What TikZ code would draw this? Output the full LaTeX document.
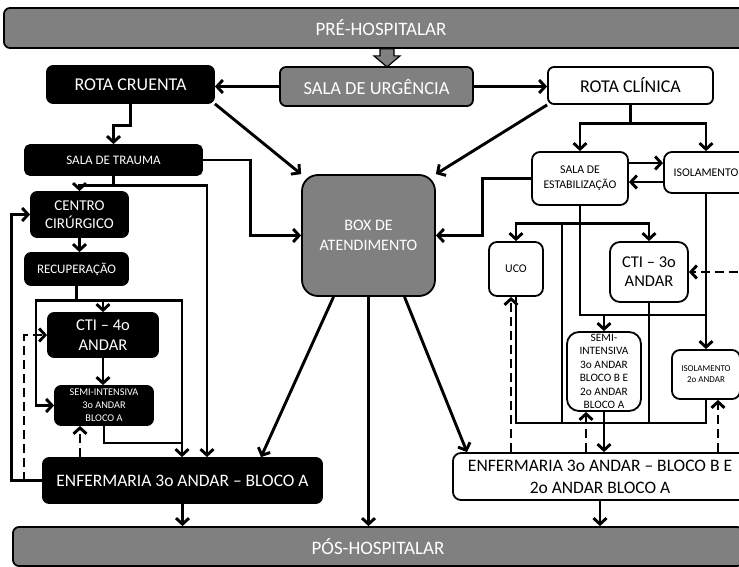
\documentclass[tikz,border=0pt]{standalone}
\usepackage{fontspec}
\setmainfont{Carlito}
\usetikzlibrary{positioning, calc, arrows.meta}
\definecolor{midgray}{RGB}{128,128,128}
\newcommand{\fsz}[2]{\fontsize{#1pt}{#2pt}\selectfont}

\begin{document}
\begin{tikzpicture}[
			x=1pt, y=-1pt,
			blackbox/.style={
				rectangle,
				rounded corners=6pt,
				draw=black,
				line width=1.8pt,
				fill=black,
				text=white,
				inner sep=0pt,
				align=center
			},
			whitebox/.style={
				blackbox,
				fill=white,
				text=black
			},
			graybox/.style={
				blackbox,
				fill=midgray,
				text=white
			},
			conn/.style={line width=2.9pt},
			arr/.style={conn, -{Straight Barb[length=6pt, width=13pt]}},
			darr/.style={arr, dash pattern=on 9pt off 5pt}
			]
			\useasboundingbox (0,0) rectangle (739,567);
			
			% Barras de entrada e saída
			\node[graybox, minimum width=754pt, minimum height=40pt, font=\fsz{19}{22}] (pre) at (381,28) {PRÉ-HOSPITALAR};
			\node[graybox, minimum width=730pt, minimum height=39pt, font=\fsz{19}{22}] (pos) at (378,546.5) {PÓS-HOSPITALAR};
			\draw[line width=1.2pt, fill=midgray] ($(pre.south)+(-1,0)$) -- ++(0,7) -- ++(-6,0) -- ++(13,11) -- ++(13,-11) -- ++(-6,0) -- ++(0,-7) -- cycle;
			
			% Primeira linha
			\node[graybox, minimum width=193pt, minimum height=39pt, font=\fsz{18.5}{21}] (urg) at (376.5,86.5) {SALA DE URGÊNCIA};
			\node[blackbox, minimum width=167pt, minimum height=37pt, font=\fsz{18}{21}] (rc) at (130.5,84.5) {ROTA CRUENTA};
			\node[whitebox, minimum width=165pt, minimum height=37pt, font=\fsz{18}{21}] (rcl) at (630.5,85.5) {ROTA CLÍNICA};
			
			% Rota cruenta
			\node[blackbox, rounded corners=5pt, minimum width=177pt, minimum height=30pt, font=\fsz{13}{15}] (trauma) at (113.5,160) {SALA DE TRAUMA};
			\node[blackbox, minimum width=97pt, minimum height=45pt, font=\fsz{15}{17.5}] (centro) at (79.5,214.5) {CENTRO\\CIRÚRGICO};
			\node[blackbox, minimum width=103pt, minimum height=32pt, font=\fsz{13}{15}] (recup) at (76.5,269) {RECUPERAÇÃO};
			\node[blackbox, minimum width=110pt, minimum height=44pt, font=\fsz{16.5}{20.5}] (cti4) at (103,335) {CTI – 4o\\ANDAR};
			\node[blackbox, minimum width=98pt, minimum height=39pt, font=\fsz{10.3}{13}] (semia) at (104,405.5) {SEMI-INTENSIVA\\3o ANDAR\\BLOCO A};
			\node[blackbox, minimum width=279pt, minimum height=45pt, font=\fsz{17.5}{21}] (enfa) at (182.5,480.5) {ENFERMARIA 3o ANDAR – BLOCO A};
			
			% Box central
			\node[graybox, rounded corners=16pt, minimum width=133pt, minimum height=121pt, font=\fsz{16}{20}] (box) at (368.5,235.5) {BOX DE\\ATENDIMENTO};
			
			% Rota clínica
			\node[whitebox, rounded corners=8pt, minimum width=96pt, minimum height=53pt, font=\fsz{11.8}{15}] (salae) at (580,178.5) {SALA DE\\ESTABILIZAÇÃO};
			\node[whitebox, rounded corners=8pt, minimum width=84pt, minimum height=41pt, font=\fsz{11.8}{15}] (iso) at (706,172.5) {ISOLAMENTO};
			\node[whitebox, rounded corners=8pt, minimum width=54pt, minimum height=54pt, font=\fsz{11.8}{15}] (uco) at (516,269) {UCO};
			\node[whitebox, rounded corners=10pt, minimum width=78pt, minimum height=60pt, font=\fsz{16.5}{19}] (cti3) at (649,272) {CTI – 3o\\ANDAR};
			\node[whitebox, rounded corners=12pt, minimum width=74pt, minimum height=79pt, font=\fsz{11.3}{13.5}] (semib) at (604,371.5) {SEMI-\\INTENSIVA\\3o ANDAR\\BLOCO B E\\2o ANDAR\\BLOCO A};
			\node[whitebox, rounded corners=8pt, minimum width=68pt, minimum height=49pt, font=\fsz{9}{11}] (isol2) at (706,374.5) {ISOLAMENTO\\2o ANDAR};
			\node[whitebox, rounded corners=8pt, minimum width=294pt, minimum height=47pt, font=\fsz{17.5}{22}] (enfb) at (600,476.5) {ENFERMARIA 3o ANDAR – BLOCO B E\\2o ANDAR BLOCO A};
			\coordinate (bus) at (603,423);
			\coordinate (isodash) at (752,272);
			
			% Saídas da sala de urgência
			\draw[arr] (urg.west) -- (urg.west -| rc.east);
			\draw[arr] (urg.east) -- (urg.east -| rcl.west);
			\draw[arr] (rc.south east) -- (box.north west);
			\draw[arr] (rcl.south west) -- (box.north east);
			
			% Ligações da rota cruenta
			\draw[arr] (rc.south) -- ++(0,22) -| (trauma.north);
			\draw[arr] (trauma.east) -- ++(48,0) |- (box.west);
			\draw[arr] (trauma.south) -- ++(0,10) coordinate (tj) -| (centro.north);
			\draw[arr] (tj) -| (enfa.north -| 207,0);
			\draw[arr] (centro.south) -- (centro.south |- recup.north);
			\draw[arr] (enfa.west) -- ++(-31,0) |- (centro.west);
			\draw[arr] (recup.south) -- ++(0,15) coordinate (rj) -| (cti4.north);
			\draw[arr] (rj) -- ++(-40.5,0) |- (semia.west);
			\draw[arr] (rj) -| (enfa.north -| 182,0);
			\draw[arr] (cti4.south) -- (cti4.south |- semia.north);
			\draw[conn] (semia.south) |- (182,443);
			\draw[darr] (24,480.5) |- (cti4.west);
			\draw[darr] (enfa.north -| 80,0) -- (semia.south -| 80,0);
			
			% Saídas do box
			\draw[arr] ($(box.south)+(-35,0)$) -- (enfa.north -| 261,0);
			\draw[arr] (box.south) -- (box.south |- pos.north);
			\draw[arr] ($(box.south)+(36,0)$) -- (enfb.north -| 467,0);
			\draw[arr] (enfa.south) -- (enfa.south |- pos.north);
			\draw[arr] (enfb.south) -- (enfb.south |- pos.north);
			
			% Ligações da rota clínica
			\draw[arr] (rcl.south) -- ++(0,19) coordinate (cj) -| (salae.north);
			\draw[arr] (cj) -| (iso.north);
			\draw[arr] ($(salae.east)+(0,-15.5)$) -- ($(iso.west)+(0,-9.5)$);
			\draw[arr] ($(iso.west)+(0,9.5)$) -- ($(salae.east)+(0,3.5)$);
			\draw[arr] (salae.west) -- ++(-49,0) |- (box.east);
			\draw[arr] (salae.south) -- ++(0,18) coordinate (sj) -| (uco.north);
			\draw[arr] (sj) -| (cti3.north);
			\draw[conn] (sj -| 562,0) -- (bus -| 562,0);
			\draw[conn] (sj) -- (salae.south |- 0,315) -- (iso.south |- 0,315);
			\draw[arr] (semib.north |- 0,315) -- (semib.north);
			\draw[arr] (iso.south) -- (isol2.north);
			\draw[conn] (cti3.south) -- (cti3.south |- bus);
			\draw[conn] (uco.south) |- (bus) -| (isol2.south);
			\draw[arr] (semib.south) -- (semib.south |- enfb.north);
			\draw[darr] (enfb.north -| 511,0) -- (uco.south -| 511,0);
			\draw[darr] (enfb.north -| 586,0) -- (semib.south -| 586,0);
			\draw[darr] (enfb.north -| 718,0) -- (isol2.south -| 718,0);
			\draw[darr] (isodash) -- (cti3.east);
			
		\end{tikzpicture}
\end{document}
